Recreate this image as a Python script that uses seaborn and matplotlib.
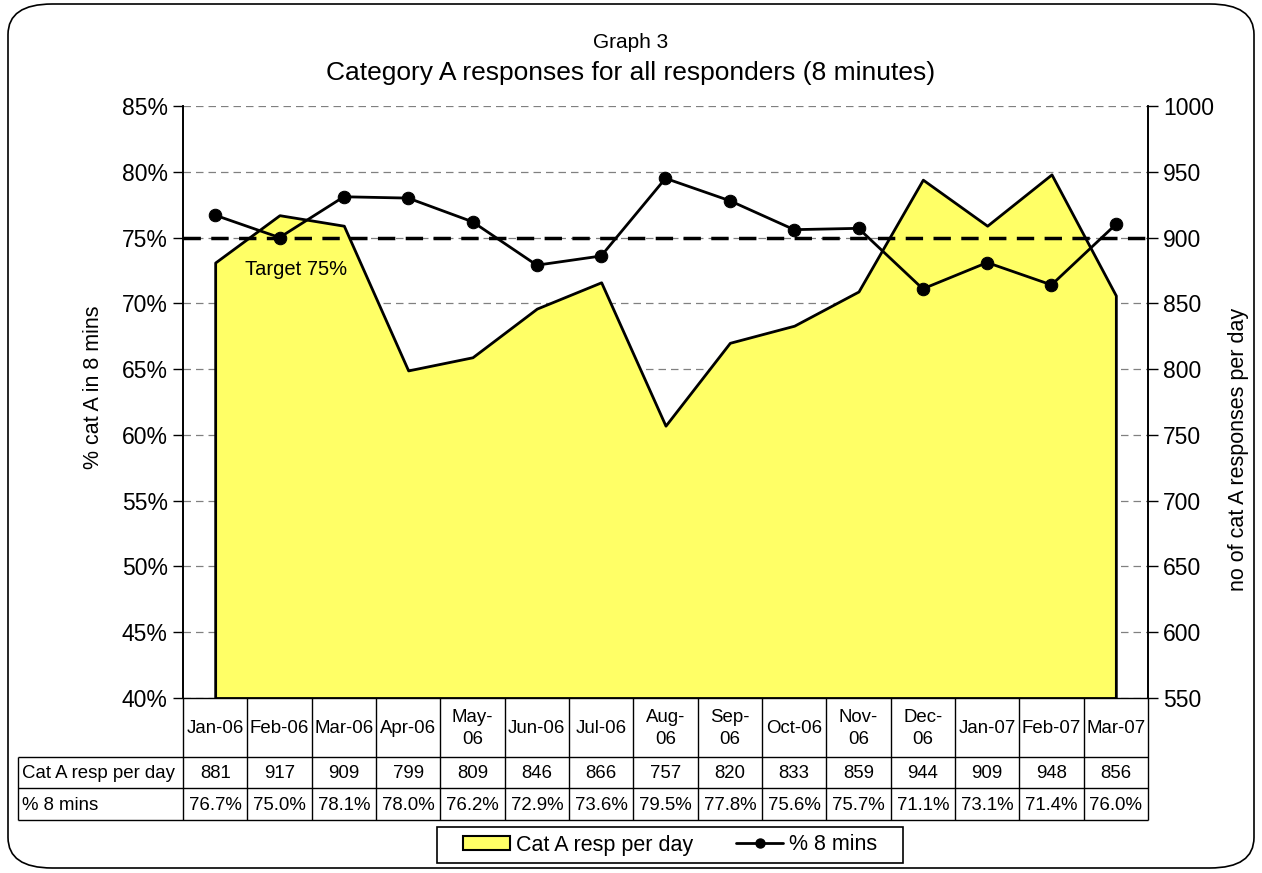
import numpy as np
import pandas as pd
import seaborn as sns
import matplotlib.pyplot as plt
from matplotlib.patches import FancyBboxPatch, Patch, Rectangle
from matplotlib.lines import Line2D

months = ['Jan-06', 'Feb-06', 'Mar-06', 'Apr-06', 'May-\n06', 'Jun-06', 'Jul-06', 'Aug-\n06',
          'Sep-\n06', 'Oct-06', 'Nov-\n06', 'Dec-\n06', 'Jan-07', 'Feb-07', 'Mar-07']
resp_per_day = [881, 917, 909, 799, 809, 846, 866, 757, 820, 833, 859, 944, 909, 948, 856]
pct_8_mins = [76.7, 75.0, 78.1, 78.0, 76.2, 72.9, 73.6, 79.5, 77.8, 75.6, 75.7, 71.1, 73.1, 71.4, 76.0]
row_labels = ['Cat A resp per day', '% 8 mins']
target = 75
left_ticks = [40, 45, 50, 55, 60, 65, 70, 75, 80, 85]
right_ticks = [550, 600, 650, 700, 750, 800, 850, 900, 950, 1000]

sns.set_style('white')
plt.rcParams['font.family'] = ['Liberation Sans', 'DejaVu Sans']
plt.rcParams['text.color'] = 'black'
plt.rcParams['axes.labelcolor'] = 'black'
plt.rcParams['ytick.color'] = 'black'

n = len(months)
df = pd.DataFrame({'pos': np.arange(n) + 0.5, 'resp': resp_per_day, 'pct': pct_8_mins})

fig = plt.figure(figsize=(12.62, 8.73), dpi=100)
fig.subplots_adjust(left=183 / 1262, right=1148 / 1262, top=1 - 106 / 873, bottom=1 - 698 / 873)

# rounded border around the whole chart
fig.patches.append(FancyBboxPatch((8 / 1262, 5 / 873), 1246 / 1262, 864 / 873,
                                  boxstyle='round,pad=0,rounding_size=0.035',
                                  transform=fig.transFigure, facecolor='none',
                                  edgecolor='black', linewidth=1.2))

ax2 = fig.add_subplot(111)          # right axis: responses per day (area)
ax = ax2.twinx()                    # left axis: percent (line)
ax.yaxis.tick_left()
ax.yaxis.set_label_position('left')
ax2.yaxis.tick_right()
ax2.yaxis.set_label_position('right')
ax.set_zorder(ax2.get_zorder() + 1)
ax.patch.set_visible(False)

##################################################################
# Area series
##################################################################
ax2.set_ylim(550, 1000)
ax2.set_yticks(right_ticks)
ax2.yaxis.grid(True, linestyle=(0, (6, 4)), color='#808080', linewidth=0.9)
ax2.set_axisbelow(True)
ax2.fill_between(df['pos'], df['resp'], 550, facecolor='#FFFF66', edgecolor='black',
                 linewidth=2, zorder=2)
ax2.set_ylabel('no of cat A responses per day', fontsize=15.5)
ax2.yaxis.set_label_coords(1.0825, 0.42)

##################################################################
# Percent series
##################################################################
ax.set_ylim(40, 85)
ax.set_yticks(left_ticks)
ax.set_yticklabels([f'{t}%' for t in left_ticks])
ax.axhline(target, color='black', linestyle=(0, (5, 3)), linewidth=2.5, zorder=3)
sns.lineplot(data=df, x='pos', y='pct', ax=ax, color='black', linewidth=2, marker='o',
             markersize=9, markeredgecolor='black', zorder=4)
ax.text(1.75, 72.6, 'Target 75%', ha='center', va='center', fontsize=14.5)
ax.set_ylabel('% cat A in 8 mins', fontsize=15.5)
ax.yaxis.set_label_coords(-0.082, 0.525)
ax.set_xlabel('')

for a in (ax, ax2):
    a.set_xlim(0, n)
    a.set_xticks([])
    a.tick_params(axis='y', labelsize=16.5, length=7, width=1, direction='out', color='black', pad=4)
    a.spines['top'].set_visible(False)
    a.spines['bottom'].set_visible(False)
    a.spines['left'].set_color('black')
    a.spines['right'].set_color('black')
    a.spines['left'].set_linewidth(1.2)
    a.spines['right'].set_linewidth(1.2)
ax2.tick_params(axis='y', right=True, left=False)
ax.tick_params(axis='y', left=True, right=False)

##################################################################
# Data table (drawn in its own axes, units = pixels)
##################################################################
tx0, tx1, ty0, ty1 = 18, 1148, 698, 820
tax = fig.add_axes([tx0 / 1262, 1 - ty1 / 873, (tx1 - tx0) / 1262, (ty1 - ty0) / 873])
tax.set_xlim(0, tx1 - tx0)
tax.set_ylim(ty1 - ty0, 0)
tax.axis('off')
label_w = 165
col_w = (tx1 - tx0 - label_w) / n
row_edges = [0, 59, 90, 122]
col_edges = [label_w + i * col_w for i in range(n + 1)]
lw = 1
tax.hlines(row_edges[0], label_w, tx1 - tx0, color='black', lw=lw, clip_on=False)
for y in row_edges[1:]:
    tax.hlines(y, 0, tx1 - tx0, color='black', lw=lw, clip_on=False)
for x in col_edges:
    tax.vlines(x, row_edges[0], row_edges[-1], color='black', lw=lw, clip_on=False)
tax.vlines(0, row_edges[1], row_edges[-1], color='black', lw=lw, clip_on=False)
tfs = 13.4
for i, m in enumerate(months):
    cx = label_w + (i + 0.5) * col_w
    tax.text(cx, (row_edges[0] + row_edges[1]) / 2 + 1, m, ha='center', va='center',
             fontsize=tfs, linespacing=1.45)
    tax.text(cx, (row_edges[1] + row_edges[2]) / 2 + 1, str(resp_per_day[i]),
             ha='center', va='center', fontsize=tfs)
    tax.text(cx, (row_edges[2] + row_edges[3]) / 2 + 1, f'{pct_8_mins[i]:.1f}%',
             ha='center', va='center', fontsize=tfs)
for j, lab in enumerate(row_labels):
    tax.text(4, (row_edges[j + 1] + row_edges[j + 2]) / 2 + 1, lab, ha='left', va='center',
             fontsize=tfs)

##################################################################
# Titles and legend
##################################################################
fig.text(0.5, 1 - 43 / 873, 'Graph 3', ha='center', va='center', fontsize=15)
fig.text(0.5, 1 - 73 / 873, 'Category A responses for all responders (8 minutes)',
         ha='center', va='center', fontsize=19)

# legend box
fig.patches.append(Rectangle((437 / 1262, 1 - 863 / 873), 466 / 1262, 36 / 873,
                             transform=fig.transFigure, facecolor='white',
                             edgecolor='black', linewidth=1.2))
handles = [Patch(facecolor='#FFFF66', edgecolor='black', linewidth=1.5),
           Line2D([], [], color='black', linewidth=2, marker='o', markersize=6.5)]
fig.legend(handles, ['Cat A resp per day', '% 8 mins'], loc='center',
           bbox_to_anchor=(670 / 1262, 1 - 845 / 873), ncol=2, fontsize=15.5,
           frameon=False, handlelength=2.2, handleheight=0.6, handletextpad=0.25,
           columnspacing=2.0, borderpad=0.3)

plt.savefig('out.png', dpi=100)
